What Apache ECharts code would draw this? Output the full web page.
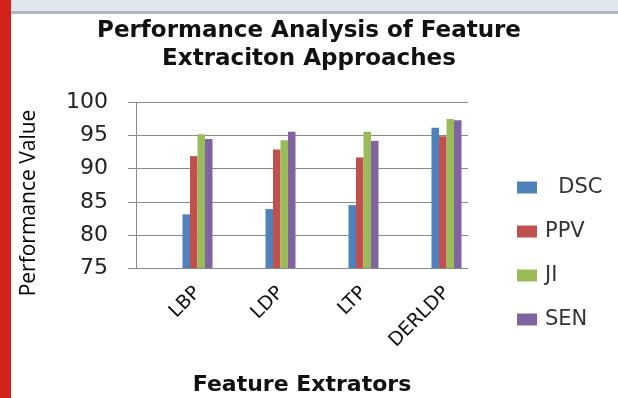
<!DOCTYPE html>
<html>
<head>
<meta charset="utf-8">
<script src="https://cdn.jsdelivr.net/npm/echarts@6/dist/echarts.min.js"></script>
<style>
  html, body { margin: 0; padding: 0; background: #fff; }
  #wrap { position: relative; width: 618px; height: 398px; overflow: hidden; }
  #topbar { position: absolute; left: 0; top: 0; width: 618px; height: 11px; background: #dfe6ee; border-bottom: 3px solid #b3b7b9; }
  #redbar { position: absolute; left: 0; top: 0; width: 11px; height: 398px; background: #d4221a; z-index: 2; }
  #main { position: absolute; left: 0; top: 0; width: 618px; height: 398px; }
</style>
</head>
<body>
<div id="wrap">
  <div id="topbar"></div>
  <div id="main"></div>
  <div id="redbar"></div>
</div>
<script>
// Performance Analysis of Feature Extraction Approaches
const categories = ['LBP', 'LDP', 'LTP', 'DERLDP'];
const seriesNames = ['DSC', 'PPV', 'JI', 'SEN'];
const dsc = [83.1, 83.9, 84.5, 96.2];
const ppv = [91.9, 92.9, 91.7, 94.9];
const ji = [95.2, 94.3, 95.6, 97.5];
const sen = [94.5, 95.6, 94.2, 97.3];
const yMin = 75, yMax = 100, yStep = 5;

const colors = ['#4f81bd', '#c0504d', '#9bbb59', '#8064a2'];
const values = [dsc, ppv, ji, sen];

const chart = echarts.init(document.getElementById('main'), null, { renderer: 'canvas' });

const option = {
    animation: false,
    backgroundColor: 'transparent',
    title: {
        text: 'Performance Analysis of Feature\nExtraciton Approaches',
        left: 'center',
        top: 17,
        padding: 0,
        textStyle: {
            fontFamily: 'DejaVu Sans',
            fontWeight: 'bold',
            fontSize: 23,
            lineHeight: 28,
            color: '#111'
        }
    },
    legend: {
        orient: 'vertical',
        left: 517,
        top: 177,
        padding: 0,
        itemWidth: 20,
        itemHeight: 12,
        itemGap: 23,
        icon: 'rect',
        data: seriesNames,
        formatter: name => name === 'DSC' ? '  DSC' : name,
        textStyle: {
            fontFamily: 'DejaVu Sans',
            fontSize: 21,
            lineHeight: 20,
            color: '#333',
            padding: [0, 0, 0, 3]
        }
    },
    graphic: [{
        type: 'text',
        rotation: Math.PI / 2,
        x: 29,
        y: 203,
        style: {
            text: 'Performance Value',
            fontFamily: 'Open Sans',
            fontSize: 21,
            fill: '#000',
            align: 'center',
            verticalAlign: 'middle'
        }
    }],
    grid: [
        // axis frame
        { left: 136, right: 150, top: 102.5, bottom: 130 },
        // bars (shifted right like the original)
        { left: 156, right: 130, top: 102.5, bottom: 130 }
    ],
    xAxis: [{
        gridIndex: 0,
        type: 'category',
        data: categories,
        axisLine: { lineStyle: { color: '#8a8a8a', width: 1 } },
        axisTick: { show: false },
        axisLabel: { show: false },
        name: 'Feature Extrators',
        nameLocation: 'middle',
        nameGap: 106,
        nameTextStyle: {
            fontFamily: 'DejaVu Sans',
            fontWeight: 'bold',
            fontSize: 22,
            color: '#111'
        }
    }, {
        gridIndex: 1,
        type: 'category',
        data: categories,
        axisLine: { show: false },
        axisTick: { show: false },
        axisLabel: {
            rotate: 45,
            margin: 22,
            fontFamily: 'DejaVu Sans',
            fontSize: 19,
            color: '#111'
        }
    }],
    yAxis: [{
        gridIndex: 0,
        type: 'value',
        min: yMin,
        max: yMax,
        interval: yStep,
        axisLine: { show: true, lineStyle: { color: '#8a8a8a' } },
        axisTick: { show: true, inside: false, length: 8, lineStyle: { color: '#8a8a8a' } },
        splitLine: { lineStyle: { color: '#8a8a8a', width: 1 } },
        axisLabel: {
            margin: 28,
            fontFamily: 'DejaVu Sans',
            fontSize: 22,
            color: '#222'
        }
    }, {
        gridIndex: 1,
        type: 'value',
        min: yMin,
        max: yMax,
        interval: yStep,
        show: false
    }],
    series: seriesNames.map((name, i) => ({
        name: name,
        type: 'bar',
        xAxisIndex: 1,
        yAxisIndex: 1,
        data: values[i],
        barWidth: 7.5,
        barGap: '0%',
        itemStyle: { color: colors[i] }
    }))
};

chart.setOption(option);
</script>
</body>
</html>
